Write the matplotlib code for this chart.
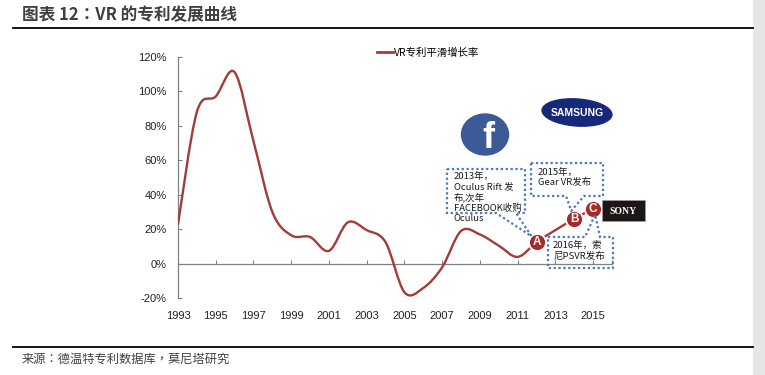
import numpy as np
import matplotlib
matplotlib.use("Agg")
import matplotlib.pyplot as plt
from matplotlib.path import Path
from matplotlib.patches import PathPatch, Polygon, Ellipse, Rectangle
import matplotlib.transforms as mtransforms

# ---- data ----
years = list(range(1993, 2016))
growth = [23, 88, 97, 111, 71, 30, 16.5, 15.5, 7.5, 24, 19.5, 12.5, -16.5, -14,
          -2, 19, 17, 10.5, 4, 12.5, 19.5, 26, 32]
tick_years = list(range(1993, 2016, 2))
y_ticks = [-20, 0, 20, 40, 60, 80, 100, 120]
series_name = "VR专利平滑增长率"
title = "图表 12：VR 的专利发展曲线"
source = "来源：德温特专利数据库，莫尼塔研究"
events = {"A": 2012, "B": 2014, "C": 2015}
notes = ["2013年，\nOculus Rift 发\n布,次年\nFACEBOOK收购\nOculus",
         "2015年，\nGear VR发布",
         "2016年，索\n尼PSVR发布"]

W, H = 765, 375
RED = "#a33b39"
BLUE = "#4a78b8"
CJK = ["Noto Sans CJK SC", "DejaVu Sans"]
CJK_TC = ["Noto Sans CJK TC", "DejaVu Sans"]
LAT = ["Liberation Sans", "DejaVu Sans"]

fig = plt.figure(figsize=(W / 100, H / 100), dpi=100)
# pixel coords with origin top-left
px = mtransforms.Affine2D().scale(1 / W, -1 / H).translate(0, 1) + fig.transFigure

ax = fig.add_axes([178 / W, 1 - 298.3 / H, (612 - 178) / W, (298.3 - 56.7) / H])
ax.set_xlim(1993, 2016)
ax.set_ylim(-20, 120)


def smooth_path(xs, ys):
    # excel-style smoothed line (catmull-rom as cubic bezier)
    pts = np.column_stack([xs, ys]).astype(float)
    n = len(pts)
    verts = [pts[0]]
    codes = [Path.MOVETO]
    for i in range(n - 1):
        p0 = pts[max(i - 1, 0)]
        p1 = pts[i]
        p2 = pts[i + 1]
        p3 = pts[min(i + 2, n - 1)]
        verts += [p1 + (p2 - p0) / 6, p2 - (p3 - p1) / 6, p2]
        codes += [Path.CURVE4] * 3
    return Path(verts, codes)


ax.add_patch(PathPatch(smooth_path(years, growth), fill=False, ec=RED, lw=1.7,
                       capstyle="round", joinstyle="round", zorder=3))
ax.plot([], [], color=RED, lw=2, label=series_name)

# axes styling
for s in ["top", "right", "bottom"]:
    ax.spines[s].set_visible(False)
ax.spines["left"].set_color("#808080")
ax.spines["left"].set_linewidth(0.9)
ax.set_yticks(y_ticks)
ax.set_yticklabels([f"{v}%" for v in y_ticks], family=LAT, fontsize=8, color="#222222")
ax.tick_params(axis="y", direction="in", length=3, color="#808080", pad=8)
ax.set_xticks(tick_years)
ax.set_xticklabels([str(y) for y in tick_years], family=LAT, fontsize=8, color="#222222")
ax.tick_params(axis="x", length=0, pad=9)
zero = ax.secondary_xaxis(20 / 140)
zero.set_xticks(tick_years[1:] + [2016])
zero.set_xticklabels([])
zero.tick_params(direction="in", length=3, color="#808080")
zero.spines["bottom"].set_color("#808080")
zero.spines["bottom"].set_linewidth(0.9)

leg = ax.legend(loc="center left", bbox_to_anchor=(377 / W, 1 - 53 / H),
                bbox_transform=fig.transFigure, frameon=False, borderpad=0,
                borderaxespad=0, handlelength=1.5, handletextpad=0.1,
                prop={"family": CJK, "size": 7.5})

fig.canvas.draw()


def to_px(x, y):
    dx, dy = ax.transData.transform((x, y))
    return dx, H - dy


# event markers
mk = {}
for letter, yr in events.items():
    v = growth[years.index(yr)]
    ax.scatter([yr], [v], s=150, color="#a52a2a", edgecolor="white", lw=1.3, zorder=5)
    ax.text(yr, v, letter, color="white", fontsize=8.5, fontweight="bold", family=LAT,
            ha="center", va="center", zorder=6)
    mk[letter] = to_px(yr, v)


def callout(box, base, tip):
    x0, y0, x1, y1 = box
    b0, b1, edge = base
    if edge == "bottom":
        pts = [(x0, y0), (x1, y0), (x1, y1), (b1, y1), tip, (b0, y1), (x0, y1)]
    else:
        pts = [(x0, y0), (b0, y0), tip, (b1, y0), (x1, y0), (x1, y1), (x0, y1)]
    fig.add_artist(Polygon(pts, closed=True, transform=px, fc="none", ec=BLUE,
                           lw=1.6, ls=(0, (1, 1.2)), zorder=4))


ax_ = mk["A"]
callout((447, 169, 525, 213), (496, 516, "bottom"), (ax_[0] - 5, ax_[1] - 6))
bx = mk["B"]
callout((531, 163, 603, 196), (566, 584, "bottom"), (bx[0] - 3, bx[1] - 8))
cx = mk["C"]
callout((548, 237, 613, 268), (585, 600, "top"), (cx[0] + 2, cx[1] + 6))

text_kw = dict(transform=px, family=CJK, fontsize=6.8, color="#1a1a1a",
               va="top", ha="left", linespacing=1.15, zorder=7)
fig.text(454, 172, notes[0], **text_kw)
fig.text(538, 168, notes[1], **text_kw)
fig.text(553, 241, notes[2], **text_kw)

# logos
fig.add_artist(Ellipse((485, 134.5), 47, 41, transform=px, color="#3d5a98", zorder=2))
fig.text(488, 138, "f", transform=px, color="white", fontsize=26, fontweight="bold",
         family=LAT, ha="center", va="center", zorder=3)
fig.add_artist(Ellipse((577, 112.5), 70, 27, angle=4, transform=px, color="#15287a", zorder=2))
fig.text(577, 113, "SAMSUNG", transform=px, color="white", fontsize=7.5, fontweight="bold",
         family=LAT, ha="center", va="center", zorder=3)
fig.add_artist(Rectangle((602, 200), 43, 21, transform=px, fc="#1c1716", ec="#9a9a9a", lw=0.6, zorder=2))
fig.text(623.5, 211, "SONY", transform=px, color="white", fontsize=7, fontweight="bold",
         family=["Liberation Serif", "DejaVu Serif"], ha="center", va="center", zorder=3)

# frame: title, rules, source, right strip
fig.add_artist(Rectangle((753, 0), 12, H, transform=px, color="#e6e6e6", zorder=0))
fig.text(22, 15, title, transform=px, family=CJK_TC, fontsize=12, fontweight="bold",
         color="#404040", va="center", ha="left")
fig.add_artist(plt.Line2D([13, 753], [28.3, 28.3], transform=px, color="black", lw=1.3))
fig.add_artist(plt.Line2D([13, 753], [347.3, 347.3], transform=px, color="black", lw=1.3))
fig.text(22, 359, source, transform=px, family=CJK_TC, fontsize=8.8, color="#404040",
         va="center", ha="left")

fig.savefig("out.png", dpi=100)
